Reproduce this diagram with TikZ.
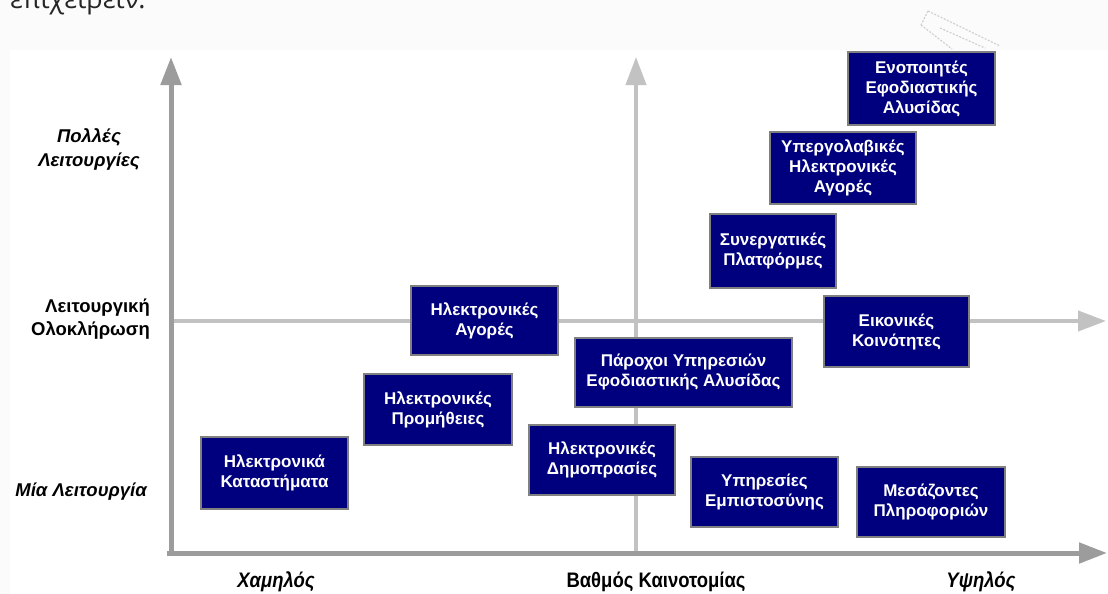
\documentclass[tikz,border=0pt]{standalone}
\usepackage{fontspec}
\setmainfont{Liberation Sans}
\newfontfamily\narrowfont[FakeStretch=0.88]{Liberation Sans}
\newfontfamily\bodyfont{Open Sans}
\usetikzlibrary{arrows.meta}
\definecolor{boxnavy}{HTML}{00007F}
\definecolor{axisdark}{HTML}{9C9C9C}
\definecolor{axislight}{HTML}{C2C2C2}
\tikzset{
  cell/.style={draw=black!50, line width=1.2pt, fill=boxnavy, text=white,
    font=\bfseries\fontsize{17}{20}\selectfont, align=center, inner sep=0pt},
  mainaxis/.style={draw=axisdark, line width=5pt,
    -{Triangle[length=28pt,width=20pt]}},
  midaxis/.style={draw=axislight, line width=4pt,
    -{Triangle[length=28pt,width=20pt]}},
  axislabel/.style={font=\bfseries\fontsize{18.5}{23}\selectfont, inner sep=0pt},
  scalelabel/.style={font=\narrowfont\bfseries\fontsize{21}{24}\selectfont, inner sep=0pt}
}
\begin{document}
\begin{tikzpicture}[x=1pt,y=-1pt]
\useasboundingbox (0,0) rectangle (1108,594);
\clip (0,0) rectangle (1108,594);
\fill[black!1.5] (0,0) rectangle (1108,594);
\fill[white] (10,50) rectangle (1108,594);

% running text above the figure
\node[anchor=base west, font=\bodyfont\fontsize{27}{30}\selectfont, text=black!85, inner sep=0pt]
  (caption) at (10,9) {επιχειρειν.};

% faint sketch in the upper right corner
\draw[black!18, line width=1.2pt, dash pattern=on 2pt off 1.5pt]
  (928,11) -- (1000,46) (921,25) -- (952,49) (928,11) -- (921,25)
  (940,28) -- (985,48);

% axes
\coordinate (origin) at (171,555);
\coordinate (ytop) at (171,57);
\coordinate (xleft) at (167,553);
\coordinate (xend) at (1107,553);
\coordinate (midbottom) at (636,553);
\coordinate (midtop) at (636,57);
\coordinate (midleft) at (171,321);
\coordinate (midright) at (1106,321);

\draw[midaxis] (midbottom) -- (midtop);
\draw[midaxis] (midleft) -- (midright);
\draw[mainaxis] (origin) -- (ytop);
\draw[mainaxis] (xleft) -- (xend);

% vertical scale labels
\node[axislabel, font=\bfseries\itshape\fontsize{18.5}{24}\selectfont, align=center]
  (many) at (89,149) {Πολλές\\Λειτουργίες};
\node[axislabel, align=right, anchor=east] (integr) at (150,319) {Λειτουργική\\Ολοκλήρωση};
\node[axislabel, font=\bfseries\itshape\fontsize{18.5}{20}\selectfont, anchor=east]
  (one) at (147,492) {Μία Λειτουργία};

% horizontal scale labels
\node[scalelabel, font=\narrowfont\bfseries\itshape\fontsize{21}{24}\selectfont]
  (low) at (276,582) {Χαμηλός};
\node[scalelabel] (degree) at (656,582) {Βαθμός Καινοτομίας};
\node[scalelabel, font=\narrowfont\bfseries\itshape\fontsize{21}{24}\selectfont]
  (high) at (981,582) {Υψηλός};

% application categories
\node[cell, minimum width=147pt, minimum height=73pt] (integrators) at (921.5,88.5)
  {Ενοποιητές\\Εφοδιαστικής\\Αλυσίδας};
\node[cell, minimum width=146pt, minimum height=72pt] (subcontract) at (843,168)
  {Υπεργολαβικές\\Ηλεκτρονικές\\Αγορές};
\node[cell, minimum width=126pt, minimum height=74pt] (collab) at (773,251)
  {Συνεργατικές\\Πλατφόρμες};
\node[cell, minimum width=145pt, minimum height=71pt] (virtual) at (896.5,331.5)
  {Εικονικές\\Κοινότητες};
\node[cell, minimum width=147pt, minimum height=69pt] (emarkets) at (484.5,320.5)
  {Ηλεκτρονικές\\Αγορές};
\node[cell, minimum width=217pt, minimum height=69pt] (providers) at (683.5,372.5)
  {Πάροχοι Υπηρεσιών\\Εφοδιαστικής Αλυσίδας};
\node[cell, minimum width=148pt, minimum height=71pt] (eprocure) at (438,409.5)
  {Ηλεκτρονικές\\Προμήθειες};
\node[cell, minimum width=147pt, minimum height=72pt] (eshops) at (274.5,473)
  {Ηλεκτρονικά\\Καταστήματα};
\node[cell, minimum width=146pt, minimum height=70pt] (eauction) at (602,460)
  {Ηλεκτρονικές\\Δημοπρασίες};
\node[cell, minimum width=147pt, minimum height=70pt] (trust) at (764.5,492)
  {Υπηρεσίες\\Εμπιστοσύνης};
\node[cell, minimum width=148pt, minimum height=70pt] (infobrokers) at (931,502)
  {Μεσάζοντες\\Πληροφοριών};
\end{tikzpicture}
\end{document}
